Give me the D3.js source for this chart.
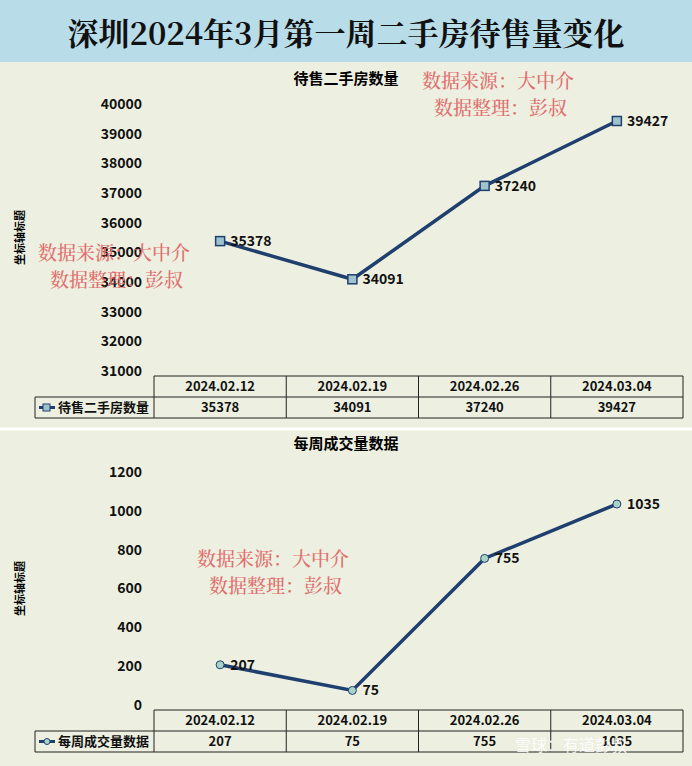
<!DOCTYPE html><html><head><meta charset="utf-8"><script src="https://cdn.jsdelivr.net/npm/d3@7"></script>
<style>body{margin:0}svg{display:block}</style></head><body><svg id="c" width="692" height="766"></svg><script>
const categories=["2024.02.12","2024.02.19","2024.02.26","2024.03.04"];
const stockValues=[35378,34091,37240,39427];
const dealValues=[207,75,755,1035];
const stockTicks=[31000,32000,33000,34000,35000,36000,37000,38000,39000,40000];
const dealTicks=[0,200,400,600,800,1000,1200];
const svg=d3.select("#c");
const F="'Noto Sans CJK SC','Noto Sans',sans-serif";
svg.append("rect").attr("width",692).attr("height",766).attr("fill","#edf0e0");
svg.append("rect").attr("width",692).attr("height",62).attr("fill","#b8dde9");
svg.append("text").attr("x",346).attr("y",45).attr("text-anchor","middle").attr("font-family","'Noto Serif CJK SC','Noto Sans CJK SC',serif").attr("font-size",31).attr("font-weight",700).attr("fill","#111").text("深圳2024年3月第一周二手房待售量变化");
svg.append("line").attr("x1",0).attr("x2",692).attr("y1",429).attr("y2",429).attr("stroke","#fff").attr("stroke-width",3);
function chart(o){
  const g=svg.append("g");
  g.append("text").attr("x",346).attr("y",o.titleY).attr("text-anchor","middle").attr("font-family",F).attr("font-size",15).attr("font-weight",700).text(o.title);
  g.append("text").attr("transform",`translate(24,${(o.yTop+o.yBot)/2}) rotate(-90)`).attr("text-anchor","middle").attr("font-family",F).attr("font-size",11).attr("font-weight",700).text("坐标轴标题");
  const y=d3.scaleLinear().domain(o.domain).range([o.yBot,o.yTop]);
  const x=d3.scaleBand().domain(categories).range([154,683]);
  const ax=g.append("g").attr("transform","translate(145,0)").call(d3.axisLeft(y).tickValues(o.ticks).tickSize(0).tickFormat(d3.format("d")));
  ax.select(".domain").remove();
  ax.selectAll("text").attr("font-family",F).attr("font-size",14).attr("font-weight",700).attr("fill","#111");
  const line=d3.line().x((d,i)=>x(categories[i])+x.bandwidth()/2).y(d=>y(d));
  g.append("path").datum(o.values).attr("d",line).attr("fill","none").attr("stroke","#1f3f6e").attr("stroke-width",3.5);
  o.values.forEach((v,i)=>{
    const cx=x(categories[i])+x.bandwidth()/2, cy=y(v);
    if(o.square) g.append("rect").attr("x",cx-4.5).attr("y",cy-4.5).attr("width",9).attr("height",9).attr("fill","#9ec3cf").attr("stroke","#1f3f6e").attr("stroke-width",1.5);
    else g.append("circle").attr("cx",cx).attr("cy",cy).attr("r",4).attr("fill","#a8d4c8").attr("stroke","#1f3f6e").attr("stroke-width",1);
    g.append("text").attr("x",cx+10).attr("y",cy+5).attr("font-family",F).attr("font-size",14).attr("font-weight",700).attr("fill","#111").text(v);
  });
  const t=o.tableY, h=21;
  const tg=g.append("g").attr("font-family",F).attr("font-size",13).attr("font-weight",700).attr("fill","#111");
  tg.append("path").attr("d",`M154,${t}H683V${t+2*h}H35V${t+h}H683M154,${t}V${t+2*h}`).attr("fill","none").attr("stroke","#222");
  categories.forEach((c,i)=>{
    if(i>0) tg.append("line").attr("x1",x(c)).attr("x2",x(c)).attr("y1",t).attr("y2",t+2*h).attr("stroke","#222");
    tg.append("text").attr("x",x(c)+x.bandwidth()/2).attr("y",t+15).attr("text-anchor","middle").text(c);
    tg.append("text").attr("x",x(c)+x.bandwidth()/2).attr("y",t+h+15).attr("text-anchor","middle").text(o.values[i]);
  });
  tg.append("line").attr("x1",39).attr("x2",55).attr("y1",t+h+10.5).attr("y2",t+h+10.5).attr("stroke","#1f3f6e").attr("stroke-width",3);
  if(o.square) tg.append("rect").attr("x",43).attr("y",t+h+7).attr("width",7).attr("height",7).attr("fill","#9ec3cf").attr("stroke","#1f3f6e");
  else tg.append("circle").attr("cx",47).attr("cy",t+h+10.5).attr("r",3).attr("fill","#a8d4c8").attr("stroke","#1f3f6e");
  tg.append("text").attr("x",58).attr("y",t+h+15).attr("font-size",13).text(o.title);
}
chart({title:"待售二手房数量",titleY:84,domain:[31000,40000],yTop:104,yBot:371,ticks:stockTicks,values:stockValues,square:true,tableY:376});
chart({title:"每周成交量数据",titleY:449,domain:[0,1200],yTop:472,yBot:705,ticks:dealTicks,values:dealValues,square:false,tableY:710});
function wm(x,y){
  const w=svg.append("g").attr("font-family","'Noto Serif CJK SC','Noto Sans CJK SC',serif").attr("font-size",19).attr("font-weight",500).attr("fill","#e07070");
  w.append("text").attr("x",x).attr("y",y).text("数据来源：大中介");
  w.append("text").attr("x",x+12).attr("y",y+27).text("数据整理：彭叔");
}
wm(422,88);wm(38,260);wm(197,566);
svg.append("text").attr("x",515).attr("y",751).attr("font-family",F).attr("font-size",16).attr("fill","#fff").attr("opacity",0.85).text("雪球：有道彭叔");
</script></body></html>
